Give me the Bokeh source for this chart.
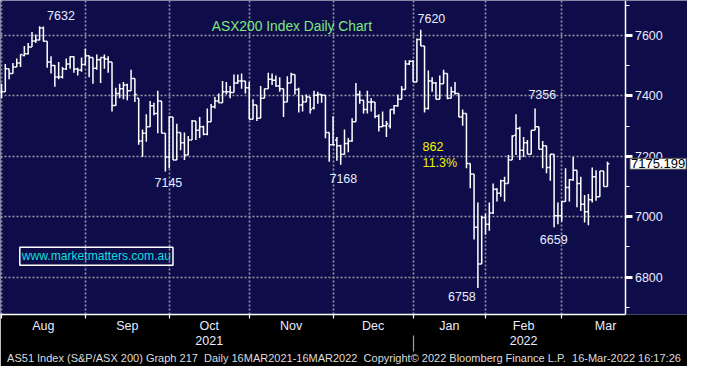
from bokeh.plotting import figure
from bokeh.models import Range1d, FixedTicker, Label, ColumnDataSource, LinearAxis, BoxAnnotation
from bokeh.embed import file_html
from bokeh.resources import INLINE

# ---- data ----
opens = [7414, 7414, 7490, 7474, 7496, 7509, 7534, 7540, 7562, 7582,
         7585, 7625, 7581, 7512, 7501, 7463, 7463, 7489, 7506, 7530,
         7489, 7486, 7504, 7533, 7527, 7492, 7520, 7527, 7522, 7512,
         7368, 7408, 7424, 7436, 7417, 7458, 7392, 7251, 7276, 7298,
         7367, 7342, 7383, 7276, 7198, 7330, 7188, 7279, 7245, 7204,
         7254, 7317, 7286, 7298, 7273, 7314, 7364, 7383, 7377, 7414,
         7414, 7411, 7443, 7449, 7449, 7427, 7323, 7370, 7326, 7392,
         7424, 7455, 7452, 7433, 7424, 7380, 7443, 7471, 7421, 7370,
         7380, 7396, 7360, 7402, 7405, 7402, 7279, 7238, 7254, 7235,
         7207, 7242, 7251, 7314, 7405, 7386, 7355, 7380, 7380, 7333,
         7298, 7301, 7300, 7355, 7367, 7389, 7421, 7506, 7515, 7446,
         7587, 7565, 7358, 7449, 7443, 7389, 7440, 7474, 7392, 7414,
         7408, 7330, 7342, 7176, 7141, 6965, 6843, 6997, 6975, 7012,
         7091, 7078, 7119, 7110, 7188, 7270, 7292, 7220, 7245, 7207,
         7286, 7298, 7223, 7235, 7163, 7207, 7003, 7003, 7050, 7097,
         7122, 7154, 7110, 7041, 7016, 7056, 7132, 7066, 7151, 7100]
highs = [7440, 7506, 7490, 7509, 7524, 7537, 7565, 7575, 7612, 7603,
         7631, 7630, 7581, 7531, 7502, 7512, 7496, 7524, 7531, 7531,
         7493, 7527, 7556, 7534, 7527, 7537, 7527, 7537, 7531, 7512,
         7427, 7440, 7446, 7440, 7487, 7458, 7392, 7289, 7339, 7383,
         7377, 7417, 7383, 7276, 7333, 7330, 7308, 7279, 7279, 7267,
         7320, 7317, 7330, 7301, 7358, 7373, 7396, 7408, 7449, 7446,
         7433, 7471, 7471, 7474, 7449, 7446, 7389, 7370, 7433, 7424,
         7477, 7474, 7468, 7462, 7424, 7465, 7477, 7471, 7427, 7402,
         7405, 7396, 7417, 7414, 7405, 7402, 7279, 7333, 7264, 7238,
         7289, 7261, 7326, 7443, 7417, 7386, 7417, 7392, 7380, 7339,
         7348, 7317, 7355, 7370, 7405, 7433, 7518, 7518, 7518, 7590,
         7619, 7565, 7484, 7462, 7446, 7468, 7487, 7474, 7430, 7446,
         7408, 7355, 7342, 7176, 7141, 7047, 7003, 7009, 7047, 7110,
         7094, 7122, 7132, 7204, 7270, 7339, 7298, 7264, 7254, 7286,
         7358, 7298, 7251, 7235, 7207, 7207, 7047, 7050, 7160, 7125,
         7198, 7154, 7132, 7072, 7075, 7163, 7154, 7151, 7151, 7182]
lows = [7392, 7414, 7455, 7474, 7496, 7496, 7531, 7537, 7562, 7575,
        7584, 7580, 7493, 7474, 7430, 7455, 7458, 7486, 7490, 7477,
        7468, 7480, 7502, 7462, 7440, 7487, 7443, 7490, 7477, 7348,
        7367, 7392, 7389, 7386, 7417, 7380, 7238, 7198, 7248, 7298,
        7336, 7276, 7276, 7150, 7160, 7188, 7188, 7220, 7188, 7204,
        7254, 7254, 7261, 7270, 7270, 7314, 7358, 7377, 7377, 7405,
        7392, 7411, 7440, 7424, 7408, 7323, 7323, 7317, 7326, 7392,
        7424, 7436, 7430, 7414, 7330, 7380, 7443, 7405, 7345, 7348,
        7380, 7342, 7355, 7374, 7377, 7260, 7182, 7238, 7185, 7172,
        7205, 7213, 7248, 7314, 7374, 7342, 7342, 7348, 7326, 7282,
        7298, 7264, 7292, 7339, 7364, 7389, 7421, 7502, 7446, 7446,
        7565, 7345, 7355, 7414, 7389, 7389, 7440, 7389, 7392, 7405,
        7330, 7301, 7160, 7094, 6924, 6764, 6843, 6940, 6953, 7009,
        7050, 7066, 7050, 7110, 7188, 7204, 7188, 7198, 7207, 7207,
        7286, 7223, 7160, 7144, 7119, 6965, 6975, 6984, 7050, 7050,
        7119, 7031, 7019, 6981, 6972, 7047, 7053, 7066, 7100, 7100]
closes = [7414, 7490, 7474, 7496, 7509, 7537, 7540, 7562, 7582, 7585,
          7625, 7581, 7512, 7501, 7463, 7463, 7489, 7506, 7530, 7489,
          7486, 7504, 7533, 7527, 7492, 7520, 7527, 7522, 7512, 7368,
          7408, 7424, 7436, 7417, 7458, 7405, 7251, 7276, 7298, 7367,
          7342, 7383, 7276, 7198, 7330, 7188, 7279, 7245, 7204, 7254,
          7317, 7286, 7298, 7273, 7314, 7364, 7383, 7377, 7414, 7414,
          7411, 7443, 7449, 7449, 7427, 7323, 7370, 7326, 7392, 7424,
          7455, 7452, 7433, 7424, 7380, 7443, 7471, 7421, 7370, 7380,
          7396, 7355, 7402, 7405, 7402, 7279, 7238, 7238, 7235, 7207,
          7242, 7251, 7314, 7405, 7386, 7355, 7380, 7380, 7333, 7298,
          7301, 7308, 7355, 7367, 7389, 7421, 7506, 7515, 7446, 7587,
          7565, 7358, 7449, 7443, 7389, 7440, 7474, 7392, 7414, 7408,
          7330, 7342, 7176, 7141, 6965, 6843, 6997, 6975, 7012, 7091,
          7078, 7119, 7110, 7188, 7267, 7292, 7220, 7245, 7207, 7286,
          7298, 7223, 7235, 7163, 7207, 7003, 7003, 7050, 7097, 7122,
          7154, 7110, 7041, 7016, 7056, 7132, 7066, 7151, 7100, 7175.199]

months = ["Aug", "Sep", "Oct", "Nov", "Dec", "Jan", "Feb", "Mar"]
month_starts = [0, 22, 44, 65, 87, 108, 127, 147]   # bar index of first trading day
march_end = 170
year_labels = ["2021", "2022"]
year_months = ["Oct", "Feb"]
y_major = [6800, 7000, 7200, 7400, 7600]
y_minor = [6700, 6800, 6900, 7000, 7100, 7200, 7300, 7400, 7500, 7600, 7700]
last_price = "7175.199"
title_text = "ASX200 Index Daily Chart"
footer_text = ("AS51 Index (S&P/ASX 200) Graph 217\u00a0 Daily 16MAR2021-16MAR2022\u00a0 "
               "Copyright\u00a9 2022 Bloomberg Finance L.P.\u00a0 16-Mar-2022 16:17:26")
watermark = "www.marketmatters.com.au"

# ---- styling ----
NAVY = "#0e0d4a"
TXT = "#e8ecff"
FONT = "Liberation Sans"
X0, XAX, X1 = -0.26, 163.85, 180.0   # left edge, price-axis position, right edge (bar units)

n = len(closes)
idx = list(range(n))
src = ColumnDataSource(dict(x=idx, o=opens, h=highs, l=lows, c=closes,
                            xl=[i - 0.48 for i in idx], xr=[i + 0.48 for i in idx]))

p = figure(width=687, height=366, output_backend="svg", toolbar_location=None, title=None,
           x_range=Range1d(X0, X1), y_range=Range1d(6676, 7716),
           y_axis_location="right",
           min_border_left=0, min_border_top=0, min_border_right=0, min_border_bottom=49,
           background_fill_color=NAVY, border_fill_color="black", outline_line_color=None)

# grids
p.xgrid.ticker = FixedTicker(ticks=month_starts)
for g in (p.xgrid, p.ygrid):
    g.grid_line_color = "#9a9aa4"
    g.grid_line_dash = "2 2"
    g.grid_line_width = 1.6
if "cross_bounds" in p.ygrid.properties():
    p.ygrid.cross_bounds = (X0, XAX)
else:
    p.add_layout(BoxAnnotation(left=XAX, fill_color=NAVY, fill_alpha=1.0,
                               line_color=None, level="underlay"))

# price axis (inside the frame, at the right end of the bars)
ya = p.yaxis[0]
ya.fixed_location = XAX
ya.ticker = FixedTicker(ticks=y_major, minor_ticks=y_minor)
ya.axis_line_color = "white"
ya.axis_line_width = 1.5
ya.major_tick_line_color = "white"
ya.major_tick_line_width = 3
ya.major_tick_out = 7
ya.major_tick_in = 0
ya.minor_tick_line_color = "white"
ya.minor_tick_line_width = 1.2
ya.minor_tick_out = 4
ya.minor_tick_in = 0
ya.major_label_text_color = TXT
ya.major_label_text_font = FONT
ya.major_label_text_font_size = "12.5px"
ya.major_label_standoff = 2

# month axis
mids = []
for k in range(len(months)):
    a = month_starts[k]
    b = month_starts[k + 1] if k + 1 < len(month_starts) else march_end
    mids.append((a + b) / 2)
xa = p.xaxis[0]
xa.bounds = (X0, XAX)
xa.ticker = FixedTicker(ticks=mids, minor_ticks=month_starts)
xa.major_label_overrides = {m: t for m, t in zip(mids, months)}
xa.axis_line_color = "white"
xa.axis_line_width = 1.5
xa.major_tick_line_color = None
xa.major_tick_out = 0
xa.major_tick_in = 0
xa.minor_tick_line_color = "white"
xa.minor_tick_line_width = 1.2
xa.minor_tick_out = 4
xa.minor_tick_in = 0
xa.major_label_text_color = TXT
xa.major_label_text_font = FONT
xa.major_label_text_font_size = "12.5px"
xa.major_label_standoff = 0

# year axis (second row under the months) carrying the footer line as its axis label
ymids = [mids[months.index(m)] for m in year_months]
yax = LinearAxis(ticker=FixedTicker(ticks=ymids, minor_ticks=[month_starts[months.index("Jan")]]),
                 major_label_overrides={m: t for m, t in zip(ymids, year_labels)},
                 axis_line_color=None, major_tick_line_color=None,
                 major_tick_out=0, major_tick_in=0,
                 minor_tick_line_color="#a0a0a0", minor_tick_line_width=1.2,
                 minor_tick_out=16, minor_tick_in=0,
                 major_label_text_color=TXT, major_label_text_font=FONT,
                 major_label_text_font_size="12.5px", major_label_standoff=-16,
                 axis_label=footer_text, axis_label_standoff=4,
                 axis_label_text_font=FONT, axis_label_text_font_size="11px",
                 axis_label_text_font_style="normal", axis_label_text_color="#dcdcdc")
p.add_layout(yax, "below")

# OHLC bars
p.segment(x0="x", y0="l", x1="x", y1="h", source=src, line_color="white", line_width=1.5)
p.segment(x0="xl", y0="o", x1="x", y1="o", source=src, line_color="white", line_width=1.5)
p.segment(x0="x", y0="c", x1="xr", y1="c", source=src, line_color="white", line_width=1.5)

def lab(x, y, text, color=TXT, size="12.5px", align="center", **kw):
    p.add_layout(Label(x=x, y=y, text=text, text_color=color,
                       text_font=FONT, text_font_size=size, text_align=align,
                       text_baseline="middle", **kw))

# title
lab(76.2, 7631, title_text, color="#7ee87e", size="13.8px")

# peak / trough annotations
lab(15.6, 7667, "7632")
lab(112.8, 7656, "7620")
lab(141.9, 7405, "7356")
lab(43.8, 7113, "7145")
lab(89.7, 7128, "7168")
lab(120.8, 6736, "6758")
lab(144.9, 6924, "6659")
lab(110.5, 7232, "862", color="#f2f200", align="left")
lab(110.5, 7179, "11.3%", color="#f2f200", align="left")

# watermark box
lab(24.9, 6869, watermark, color="#10dede", size="12.1px",
    border_line_color="white", border_line_width=1.5, padding=2)

# last price tag
lab(164.9, float(last_price), last_price, color="black", size="13px", align="left",
    background_fill_color="white", border_line_color="#444444", padding=1)

open("out.html", "w").write(file_html(p, INLINE))
